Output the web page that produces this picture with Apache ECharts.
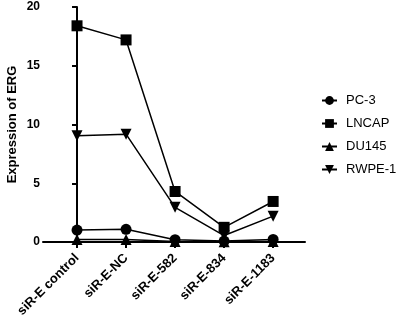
<!DOCTYPE html>
<html><head><meta charset="utf-8">
<script src="https://cdn.jsdelivr.net/npm/echarts@6/dist/echarts.min.js"></script>
<style>html,body{margin:0;padding:0;background:#fff}#c{width:397px;height:319px}</style>
</head><body><div id="c"></div>
<script>
var categories = ['siR-E control', 'siR-E-NC', 'siR-E-582', 'siR-E-834', 'siR-E-1183'];
var pc3 = [1.02, 1.08, 0.2, 0.08, 0.22];
var lncap = [18.4, 17.2, 4.3, 1.25, 3.45];
var du145 = [0.22, 0.22, 0.05, 0.02, 0.05];
var rwpe1 = [9.05, 9.18, 2.95, 0.55, 2.2];
var yTicks = [0, 5, 10, 15, 20];
var seriesNames = ['PC-3', 'LNCAP', 'DU145', 'RWPE-1'];

function pts(arr){ return arr.map(function(v,i){ return [i, v]; }); }
var font = 'Liberation Sans, Arial, sans-serif';
var symbols = ['circle', 'rect', 'triangle', 'path://M0,0 L10,0 L5,9 Z'];
var sizes = [11, 11, 11, 11];
var datas = [pc3, lncap, du145, rwpe1];
var chart = echarts.init(document.getElementById('c'));
chart.setOption({
  animation: false,
  grid: {left: 43, top: 7, right: 92, bottom: 77, containLabel: false, outerBoundsMode: 'none'},
  legend: {
    orient: 'vertical', left: 316, top: 89, itemGap: 10,
    itemWidth: 15, itemHeight: 11,
    textStyle: {fontFamily: font, fontSize: 13, color: '#000', padding: [0,0,0,4]},
    data: seriesNames
  },
  xAxis: {
    type: 'value', min: -0.694, max: 4.65,
    splitLine: {show: false},
    axisLine: {lineStyle: {color: '#000', width: 2}},
    axisTick: {show: true, customValues: [0,1,2,3,4], length: 6, lineStyle: {color: '#000', width: 2}},
    axisLabel: {customValues: [0,1,2,3,4], rotate: 45, margin: 14, color: '#000', fontWeight: 'bold', fontSize: 13, fontFamily: font,
      formatter: function(v){ return categories[Math.round(v)] || ''; }}
  },
  yAxis: {
    type: 'value', min: 0, max: 20, interval: 5,
    name: 'Expression of ERG', nameLocation: 'middle', nameGap: 24, nameMoveOverlap: false,
    nameTextStyle: {fontFamily: font, fontSize: 13, fontWeight: 'bold', color: '#000'},
    splitLine: {show: false},
    axisLine: {show: true, lineStyle: {color: '#000', width: 2}},
    axisTick: {show: true, length: 5, lineStyle: {color: '#000', width: 2}},
    axisLabel: {color: '#000', fontWeight: 'bold', fontSize: 12, fontFamily: font, margin: 3,
      customValues: yTicks}
  },
  series: datas.map(function(d, k){
    return {
      name: seriesNames[k], type: 'line', data: pts(d),
      symbol: symbols[k], symbolSize: sizes[k],
      lineStyle: {color: '#000', width: 1.5},
      itemStyle: {color: '#000'},
      z: 10 - k
    };
  })
});
</script></body></html>
